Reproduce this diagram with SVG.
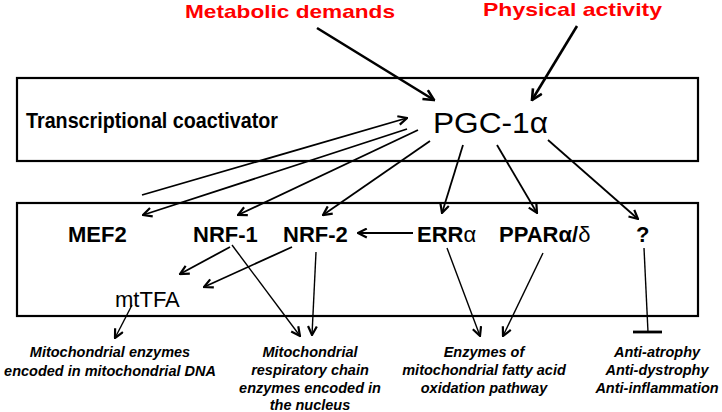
<svg xmlns="http://www.w3.org/2000/svg" width="722" height="412" viewBox="0 0 722 412">
<style>
.box{fill:none;stroke:#000;stroke-width:2.2}
.red{font-family:"Liberation Sans",Arial,sans-serif;font-weight:bold;font-size:19px;fill:#ff0000}
.node{font-family:"Liberation Sans",Arial,sans-serif;font-weight:bold;font-size:22px;fill:#000}
.reg{font-family:"Liberation Sans",Arial,sans-serif;font-size:22px;fill:#000}
.out{font-family:"Liberation Sans",Arial,sans-serif;font-weight:bold;font-style:italic;font-size:14.5px;fill:#000;text-anchor:middle}
.big{fill:none;stroke:#000;stroke-width:2.6}
.mid{fill:none;stroke:#000;stroke-width:1.8}
.thin{fill:none;stroke:#000;stroke-width:1.4}
</style>
<defs>
<marker id="ah" viewBox="0 0 10 10" refX="9" refY="5" markerWidth="11" markerHeight="11" markerUnits="userSpaceOnUse" orient="auto">
<path d="M1,1 L9,5 L1,9" fill="none" stroke="#000" stroke-width="2"/>
</marker>
<marker id="ahb" viewBox="0 0 10 10" refX="9" refY="5" markerWidth="13" markerHeight="13" markerUnits="userSpaceOnUse" orient="auto">
<path d="M1,1 L9,5 L1,9" fill="none" stroke="#000" stroke-width="2"/>
</marker>
</defs>

<g id="boxes">
<rect class="box" x="17" y="78" width="681" height="83"/>
<rect class="box" x="17" y="203" width="681" height="113"/>
</g>

<g id="metabolic"><text class="red" x="185" y="18" textLength="210" lengthAdjust="spacingAndGlyphs">Metabolic demands</text></g>
<g id="physical"><text class="red" x="483" y="16" textLength="179" lengthAdjust="spacingAndGlyphs">Physical activity</text></g>
<g id="transcriptional"><text class="node" style="font-size:21.5px" x="26" y="128" textLength="252" lengthAdjust="spacingAndGlyphs">Transcriptional coactivator</text></g>
<g id="pgc"><text class="reg" style="font-size:29px" x="433" y="133" textLength="115" lengthAdjust="spacingAndGlyphs">PGC-1α</text></g>
<g id="mef2"><text class="node" x="68" y="242">MEF2</text></g>
<g id="nrf1"><text class="node" x="193" y="242">NRF-1</text></g>
<g id="nrf2"><text class="node" x="283" y="242">NRF-2</text></g>
<g id="erra"><text class="node" x="417" y="242">ERR<tspan font-weight="normal">α</tspan></text></g>
<g id="ppar"><text class="node" x="499" y="242">PPARα/<tspan font-weight="normal">δ</tspan></text></g>
<g id="unknown"><text class="node" x="636" y="242">?</text></g>
<g id="mttfa"><text class="reg" x="115" y="307">mtTFA</text></g>

<g id="out-mtdna">
<text class="out" x="110" y="357">Mitochondrial enzymes</text>
<text class="out" x="110" y="376">encoded in mitochondrial DNA</text>
</g>
<g id="out-resp">
<text class="out" x="310" y="357">Mitochondrial</text>
<text class="out" x="310" y="375">respiratory chain</text>
<text class="out" x="310" y="393">enzymes encoded in</text>
<text class="out" x="310" y="410">the nucleus</text>
</g>
<g id="out-fatty">
<text class="out" x="484" y="357">Enzymes of</text>
<text class="out" x="484" y="375">mitochondrial fatty acid</text>
<text class="out" x="484" y="393">oxidation pathway</text>
</g>
<g id="out-anti">
<text class="out" x="657" y="357">Anti-atrophy</text>
<text class="out" x="657" y="375">Anti-dystrophy</text>
<text class="out" x="657" y="393">Anti-inflammation</text>
</g>

<g id="connectors">
<line class="big" x1="317" y1="28" x2="434" y2="100" marker-end="url(#ahb)"/>
<line class="big" x1="577" y1="26" x2="532" y2="100" marker-end="url(#ahb)"/>
<line class="mid" x1="142" y1="195" x2="407" y2="118" marker-end="url(#ah)"/>
<line class="mid" x1="407" y1="129" x2="143" y2="215" marker-end="url(#ah)"/>
<line class="mid" x1="418" y1="130" x2="238" y2="215" marker-end="url(#ah)"/>
<line class="mid" x1="430" y1="141" x2="323" y2="215" marker-end="url(#ah)"/>
<line class="mid" x1="463" y1="145" x2="442" y2="213" marker-end="url(#ah)"/>
<line class="mid" x1="497" y1="145" x2="537" y2="213" marker-end="url(#ah)"/>
<line class="mid" x1="548" y1="140" x2="638" y2="219" marker-end="url(#ah)"/>
<line class="mid" x1="413" y1="233" x2="358" y2="233" marker-end="url(#ah)"/>
<line class="mid" x1="230" y1="247" x2="180" y2="274" marker-end="url(#ah)"/>
<line class="mid" x1="292" y1="247" x2="204" y2="287" marker-end="url(#ah)"/>
<line class="thin" x1="232" y1="245" x2="300" y2="336" marker-end="url(#ah)"/>
<line class="thin" x1="316" y1="252" x2="312" y2="335" marker-end="url(#ah)"/>
<line class="thin" x1="132" y1="305" x2="115" y2="338" marker-end="url(#ah)"/>
<line class="thin" x1="447" y1="248" x2="480" y2="336" marker-end="url(#ah)"/>
<line class="thin" x1="543" y1="253" x2="503" y2="336" marker-end="url(#ah)"/>
<line class="thin" x1="644" y1="248" x2="648" y2="332"/>
<line stroke="#000" stroke-width="2.8" x1="633" y1="332" x2="662" y2="332"/>
</g>
</svg>
